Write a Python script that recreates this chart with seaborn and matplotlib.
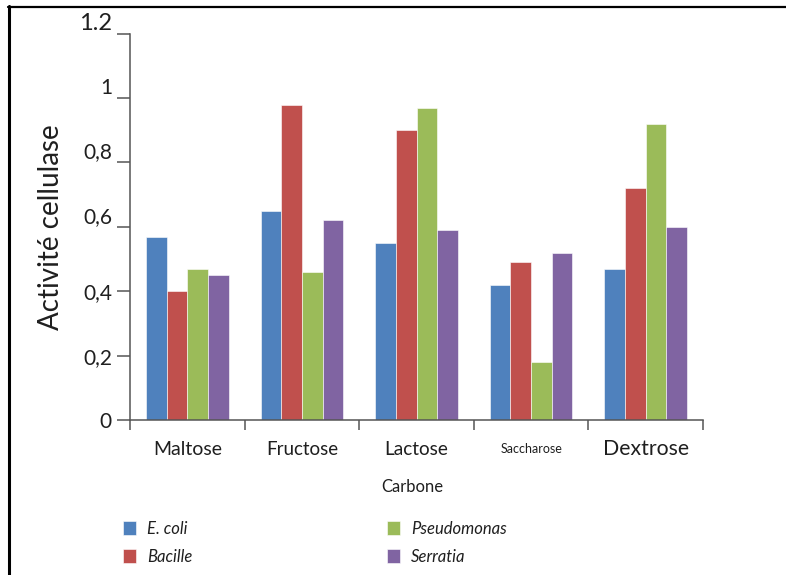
import matplotlib
matplotlib.use("Agg")
import matplotlib.pyplot as plt
from matplotlib.lines import Line2D
from matplotlib.ticker import FixedLocator
import seaborn as sns
import pandas as pd

# Carbon sources and cellulase activity per bacterial strain
sugars = ["Maltose", "Fructose", "Lactose", "Saccharose", "Dextrose"]
strains = ["E. coli", "Bacille", "Pseudomonas", "Serratia"]
ecoli = [0.57, 0.65, 0.55, 0.42, 0.47]
bacille = [0.40, 0.98, 0.90, 0.49, 0.72]
pseudomonas = [0.47, 0.46, 0.97, 0.18, 0.92]
serratia = [0.45, 0.62, 0.59, 0.52, 0.60]
colors = ["#4F81BD", "#C0504D", "#9BBB59", "#8064A2"]
y_ticks = [0, 0.2, 0.4, 0.6, 0.8, 1.0, 1.2]
y_tick_labels = ["0", "0,2", "0,4", "0,6", "0,8", "1", "1.2"]

sns.set_theme(style="white")
plt.rcParams["font.family"] = ["Lato", "DejaVu Sans"]

rows = []
for strain, vals in zip(strains, [ecoli, bacille, pseudomonas, serratia]):
    for sugar, v in zip(sugars, vals):
        rows.append({"Carbone": sugar, "Souche": strain, "Activite": v})
df = pd.DataFrame(rows)

W, H = 786, 575
fig = plt.figure(figsize=(W / 100, H / 100), dpi=100)
ax = fig.add_axes([130 / W, 155 / H, 573 / W, 386.3 / H])

sns.barplot(data=df, x="Carbone", y="Activite", hue="Souche",
            order=sugars, hue_order=strains, palette=colors,
            width=0.72, gap=0, saturation=1, errorbar=None,
            edgecolor="white", linewidth=0.4, ax=ax)

handles, labels = ax.get_legend_handles_labels()
if ax.get_legend() is not None:
    ax.get_legend().remove()

ax.set_xlim(-0.5, len(sugars) - 0.5)
ax.set_ylim(0, 1.2)

axis_color = "#555555"
text_color = "#1f1f1f"
for side in ["top", "right"]:
    ax.spines[side].set_visible(False)
for side in ["left", "bottom"]:
    ax.spines[side].set_color(axis_color)
    ax.spines[side].set_linewidth(1.1)

# y axis
ax.set_yticks(y_ticks)
ax.set_yticklabels(y_tick_labels)
ax.tick_params(axis="y", which="major", direction="out", length=9.4,
               width=1.1, color=axis_color, pad=3.6, labelcolor=text_color,
               left=True)
y_sizes = [15, 15, 15, 15, 15, 15, 17]
for lab, fs, val in zip(ax.get_yticklabels(), y_sizes, y_ticks):
    lab.set_fontsize(fs)
    if val >= 0.6:
        lab.set_va("bottom")

# x axis: labels at category centres, tick marks between categories
ax.set_xticks(range(len(sugars)))
ax.set_xticklabels(sugars)
ax.xaxis.set_minor_locator(FixedLocator([i - 0.5 for i in range(len(sugars) + 1)]))
ax.tick_params(axis="x", which="major", length=0, pad=21, labelcolor=text_color)
ax.tick_params(axis="x", which="minor", direction="out", length=7.2,
               width=1.1, color=axis_color, bottom=True)
x_sizes = [14, 13.5, 13.7, 9, 15.3]
for lab, fs in zip(ax.get_xticklabels(), x_sizes):
    lab.set_fontsize(fs)
    lab.set_va("center")

ax.set_ylabel("Activité cellulase", fontsize=20, color=text_color)
ax.yaxis.label.set_va("center")
ax.yaxis.set_label_coords(-0.138, 0.5)
ax.set_xlabel("Carbone", fontsize=12, color=text_color)
ax.xaxis.label.set_va("center")
ax.xaxis.set_label_coords(0.492, -0.173)

# Legend in two columns
leg_kw = dict(loc="upper left", frameon=False, borderpad=0, borderaxespad=0,
              handlelength=0.8, handleheight=0.9, handletextpad=0.66,
              labelspacing=0.72, prop={"size": 12, "style": "italic"},
              labelcolor=text_color)
fig.legend(handles[:2], labels[:2], bbox_to_anchor=(123 / W, 1 - 521 / H), **leg_kw)
fig.legend(handles[2:], labels[2:], bbox_to_anchor=(387 / W, 1 - 521 / H), **leg_kw)

# Frame lines on the left and top of the figure
fig.add_artist(Line2D([9 / W, 9 / W], [0, 1 - 6 / H], transform=fig.transFigure,
                      color="black", lw=2.2))
fig.add_artist(Line2D([8 / W, 1], [1 - 7 / H, 1 - 7 / H], transform=fig.transFigure,
                      color="black", lw=1.6))

fig.savefig("out.png", dpi=100)
